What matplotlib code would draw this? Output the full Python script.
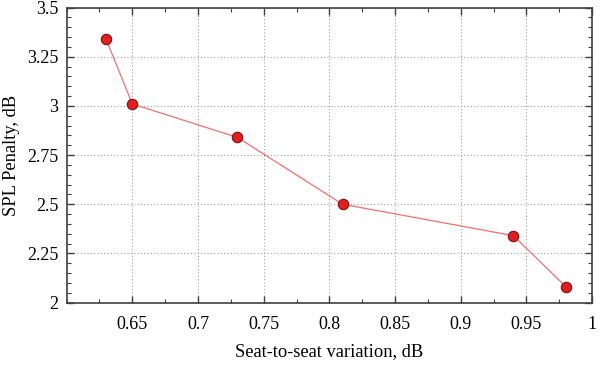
import matplotlib
matplotlib.use("Agg")
import matplotlib.pyplot as plt
from matplotlib.ticker import MultipleLocator, FixedLocator

variation = [0.63, 0.65, 0.73, 0.81, 0.94, 0.98]
penalty = [3.34, 3.01, 2.84, 2.50, 2.34, 2.08]
x_ticks = [0.65, 0.7, 0.75, 0.8, 0.85, 0.9, 0.95, 1.0]
x_tick_labels = ["0.65", "0.7", "0.75", "0.8", "0.85", "0.9", "0.95", "1"]
y_ticks = [2.0, 2.25, 2.5, 2.75, 3.0, 3.25, 3.5]
y_tick_labels = ["2", "2.25", "2.5", "2.75", "3", "3.25", "3.5"]

plt.rcParams['font.family'] = ['Liberation Serif', 'DejaVu Serif']

fig = plt.figure(figsize=(6, 3.7), dpi=100)
ax = fig.add_axes([0.111, 0.1824, 0.876, 0.797])

ax.plot(variation, penalty, color='#f07070', lw=0.9, zorder=3)
ax.plot(variation, penalty, 'o', ms=7.5, mfc='#e02020', mec='#801010', mew=0.8, zorder=4, linestyle='none')

ax.set_xlim(0.6, 1.0)
ax.set_ylim(2.0, 3.5)
ax.xaxis.set_major_locator(FixedLocator(x_ticks))
ax.set_xticklabels(x_tick_labels)
ax.yaxis.set_major_locator(FixedLocator(y_ticks))
ax.set_yticklabels(y_tick_labels)
ax.xaxis.set_minor_locator(MultipleLocator(0.025))
ax.yaxis.set_minor_locator(MultipleLocator(0.05))

ax.tick_params(which='both', direction='in', top=True, right=True, color='#404040', labelsize=13)
ax.tick_params(which='major', length=5, width=1.0)
ax.tick_params(which='minor', length=3, width=0.8)
ax.tick_params(axis='x', which='major', pad=10)
ax.tick_params(axis='y', which='major', pad=6)

for s in ax.spines.values():
    s.set_color('#404040')
    s.set_linewidth(1.2)

ax.grid(True, which='major', linestyle=(0, (1, 2)), color='#a0a0a0', lw=0.8)

ax.set_xlabel('Seat-to-seat variation, dB', fontsize=13.3, labelpad=7)
ax.set_ylabel('SPL Penalty, dB', fontsize=13.3, labelpad=5)

fig.savefig('out.png', dpi=100)
